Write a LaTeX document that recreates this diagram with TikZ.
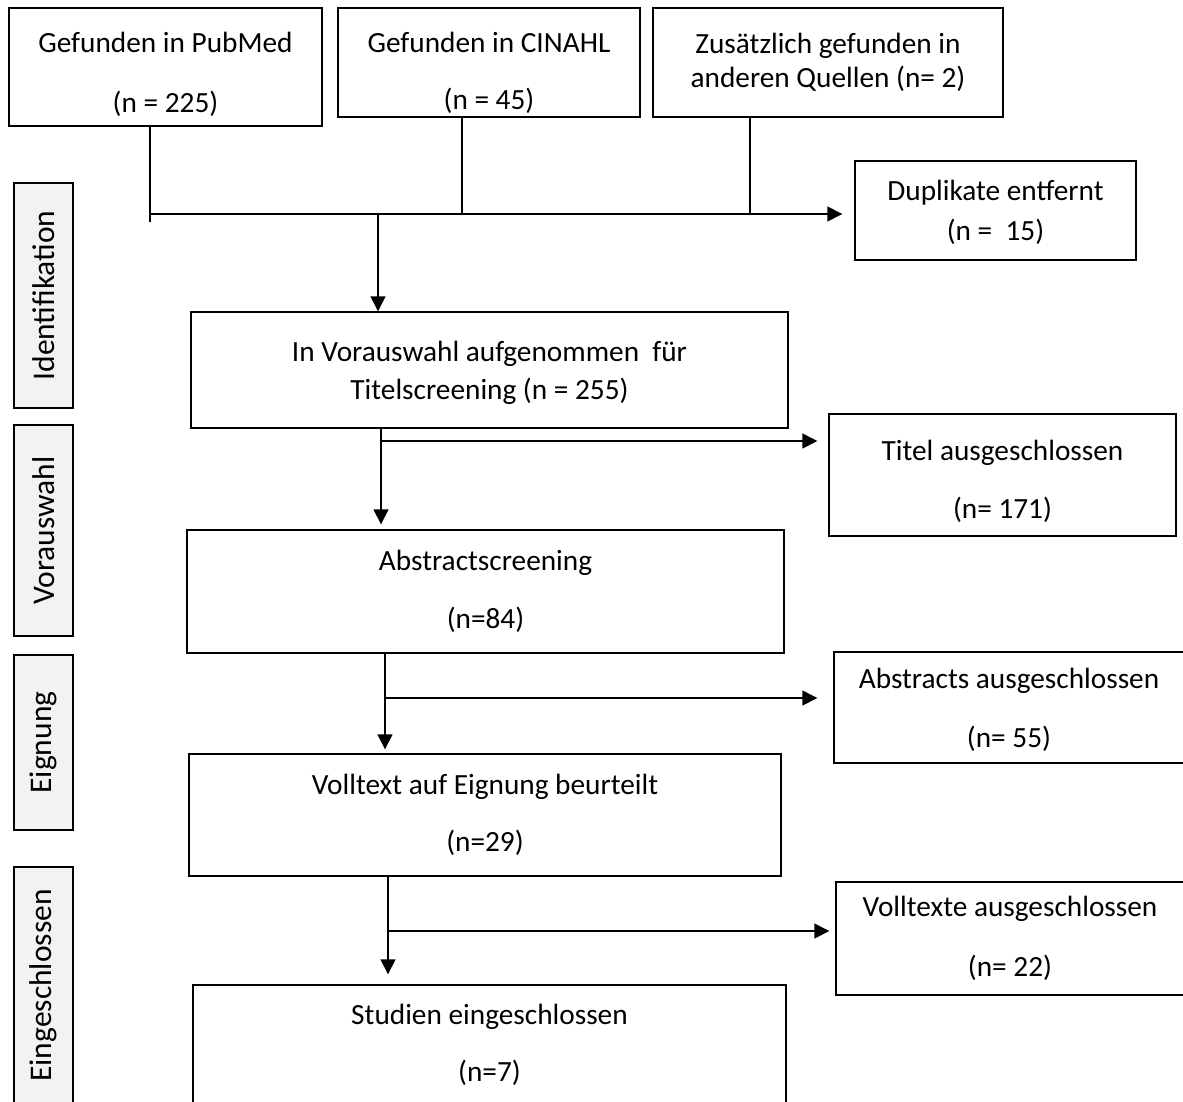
\documentclass[tikz,border=0pt]{standalone}
\usepackage{fontspec}
\setmainfont{Carlito}
\usetikzlibrary{arrows.meta,calc}
\definecolor{sidegray}{HTML}{F2F2F2}
\newcommand{\lift}[1]{\rule{0pt}{#1}}
\begin{document}
\begin{tikzpicture}[x=1pt,y=-1pt,
  box/.style={draw, line width=1.4pt, align=center, inner sep=0pt,
    font=\fontsize{29.3}{35}\selectfont},
  side/.style={draw, line width=1.4pt, fill=sidegray, rotate=90, inner sep=0pt,
    minimum height=59pt, font=\fontsize{31.5}{36}\selectfont},
  conn/.style={line width=1.4pt},
  arr/.style={conn, -{Triangle[length=15pt,width=15pt]}}]
\fill[white] (0,0) rectangle (1183,1101);
\useasboundingbox (0,0) rectangle (1183,1101);

% top boxes
\node[box, minimum width=313pt, minimum height=118pt] (pub) at (165.5,67)
  {\lift{36pt}Gefunden in PubMed\\[25pt](n = 225)};
\node[box, minimum width=302pt, minimum height=109pt] (cin) at (489,62.5)
  {\lift{42pt}Gefunden in CINAHL\\[22pt](n = 45)};
\node[box, minimum width=350pt, minimum height=109pt] (oth) at (828,62.5)
  {Zusätzlich gefunden in\\[-1pt]anderen Quellen (n= 2)};
\node[box, minimum width=281pt, minimum height=99pt] (dup) at (995.5,210.5)
  {\lift{25pt}Duplikate entfernt\\[5pt](n =\ \ 15)};

% main column
\node[box, minimum width=597pt, minimum height=116pt] (vor) at (489.5,370)
  {\lift{27pt}In Vorauswahl aufgenommen\ \ für\\[3pt]Titelscreening (n = 255)};
\node[box, minimum width=597pt, minimum height=123pt] (abs) at (485.5,591.5)
  {Abstractscreening\\[23pt](n=84)};
\node[box, minimum width=592pt, minimum height=122pt] (vol) at (485,815)
  {Volltext auf Eignung beurteilt\\[22pt](n=29)};
\node[box, minimum width=593pt, minimum height=119pt] (stu) at (489.5,1044.5)
  {Studien eingeschlossen\\[22pt](n=7)};

% exclusion boxes
\node[box, minimum width=347pt, minimum height=122pt] (tit) at (1002.5,475)
  {\lift{33pt}Titel ausgeschlossen\\[23pt](n= 171)};
\node[box, minimum width=350pt, minimum height=111pt] (abx) at (1009,707.5)
  {\lift{25pt}Abstracts ausgeschlossen\\[24pt](n= 55)};
\node[box, minimum width=348pt, minimum height=113pt] (vox) at (1010,938.5)
  {Volltexte ausgeschlossen\\[25pt](n= 22)};

% side labels
\node[side, minimum width=225pt] (sid) at (43.5,295.5) {Identifikation};
\node[side, minimum width=211pt] (sva) at (43.5,530.5) {Vorauswahl};
\node[side, minimum width=175pt] (seg) at (43.5,742.5) {Eignung};
\node[side, minimum width=237pt] (sei) at (43.5,985.5) {Eingeschlossen};

% junction coordinates
\coordinate (jP) at (150,214);
\coordinate (jC) at (462,214);
\coordinate (jO) at (750,214);
\coordinate (jD) at (378,214);
\coordinate (j2) at (381,441);
\coordinate (j3) at (385,698);
\coordinate (j4) at (388,931);

% connectors
\draw[conn] (pub.south -| jP) -- ([yshift=-8pt]jP);
\draw[conn] (cin.south -| jC) -- (jC);
\draw[conn] (oth.south -| jO) -- (jO);
\draw[arr, shorten >=12pt] (jP) -- (dup.west |- jP);
\draw[arr] (jD) -- (vor.north -| jD);

\draw[arr, shorten >=5pt] (vor.south -| j2) -- (abs.north -| j2);
\draw[arr, shorten >=11pt] (j2) -- (tit.west |- j2);

\draw[arr, shorten >=4pt] (abs.south -| j3) -- (vol.north -| j3);
\draw[arr, shorten >=16pt] (j3) -- (abx.west |- j3);

\draw[arr, shorten >=10pt] (vol.south -| j4) -- (stu.north -| j4);
\draw[arr, shorten >=6pt] (j4) -- (vox.west |- j4);
\end{tikzpicture}
\end{document}
